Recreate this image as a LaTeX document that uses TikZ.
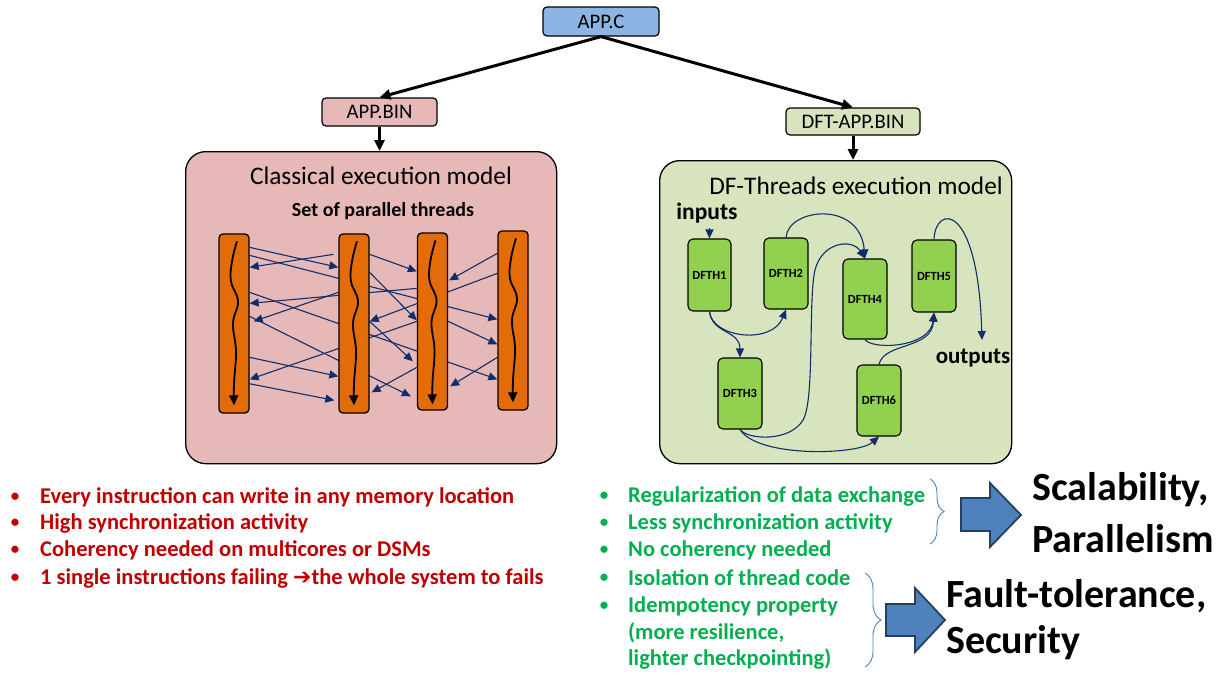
\documentclass[tikz,border=0pt]{standalone}
\usepackage{fontspec}
\setmainfont{Carlito}
\newfontfamily\symfont{DejaVu Sans}
\usetikzlibrary{arrows.meta,decorations.pathreplacing,calc}
\definecolor{pinkbox}{HTML}{E6B9B8}
\definecolor{greenbox}{HTML}{D7E4BD}
\definecolor{bluebox}{HTML}{8EB4E3}
\definecolor{dfgreen}{HTML}{92D050}
\definecolor{barorange}{HTML}{E36C09}
\definecolor{navy}{HTML}{112E6B}
\definecolor{redtxt}{HTML}{C00000}
\definecolor{greentxt}{HTML}{00B050}
\definecolor{blockblue}{HTML}{4F81BD}
\definecolor{blockedge}{HTML}{243F60}
\newcommand{\fs}[1]{\fontsize{#1}{#1}\selectfont}
\tikzset{
  smallbox/.style={draw=black, line width=1.2pt, rounded corners=4pt, inner sep=0pt, font=\fs{20.7}},
  bigbox/.style={draw=black, line width=1.3pt, rounded corners=20pt, inner sep=0pt, anchor=north west},
  bigarrow/.style={line width=3pt, -{Triangle[length=11pt,width=10pt]}},
  bar/.style={draw=black, fill=barorange, line width=1.3pt, rounded corners=4pt, inner sep=0pt, minimum width=30pt},
  flow/.style={draw=navy, line width=1.1pt, -{Triangle[length=9pt,width=8pt]}},
  wave/.style={line width=1.8pt, -{Triangle[length=10pt,width=9pt]}},
  dfth/.style={draw=black, fill=dfgreen, line width=1.1pt, rounded corners=5pt, inner sep=0pt, minimum width=44pt, minimum height=72pt, font=\bfseries\fs{12.5}},
  redline/.style={anchor=west, inner sep=0pt, text=redtxt, font=\bfseries\fs{22.5}},
  greenline/.style={anchor=west, inner sep=0pt, text=greentxt, font=\bfseries\fs{22.5}},
  redbullet/.style={anchor=center, inner sep=0pt, text=redtxt, font=\bfseries\fs{17}},
  greenbullet/.style={anchor=center, inner sep=0pt, text=greentxt, font=\bfseries\fs{17}},
  bigtxt/.style={anchor=west, inner sep=0pt, font=\bfseries\fs{40}},
  bracestyle/.style={draw=blockblue, line width=0.9pt, decorate},
  blockarrow/.style={draw=blockedge, fill=blockblue, line width=1.8pt, line join=miter},
}
\begin{document}
\begin{tikzpicture}[x=1pt,y=-1pt]
\useasboundingbox (0,0) rectangle (1225,675);
\fill[white] (0,0) rectangle (1225,675);

% top boxes
\node[smallbox, fill=bluebox, minimum width=116pt, minimum height=29pt] (appc) at (601,21.5) {APP.C};
\node[smallbox, fill=pinkbox, minimum width=115pt, minimum height=28pt] (appbin) at (379.5,112) {APP.BIN};
\node[smallbox, fill=greenbox, minimum width=134pt, minimum height=27pt] (dftbin) at (853,121.5) {DFT-APP.BIN};

% big boxes
\node[bigbox, fill=pinkbox, minimum width=371pt, minimum height=312pt] (lbox) at (185,151) {};
\node[bigbox, fill=greenbox, minimum width=352pt, minimum height=303pt] (rbox) at (659,160) {};

\draw[bigarrow] (appc.south) -- (appbin.north);
\draw[bigarrow] (appc.south) -- (dftbin.north);
\draw[bigarrow] (appbin.south) -- (appbin.south |- lbox.north);
\draw[bigarrow] (dftbin.south) -- (dftbin.south |- rbox.north);

\node[font=\fs{25.3}, inner sep=0pt] (ltitle) at (381,176) {Classical execution model};
\node[font=\bfseries\fs{20}, inner sep=0pt] (lsub) at (383,211) {Set of parallel threads};
\node[font=\fs{25.3}, inner sep=0pt] (rtitle) at (856,186) {DF-Threads execution model};

% bar anchors (drawn later)
\path (234,323.5) node[bar, minimum height=179pt, draw=none, fill=none] (b1) {};
\path (354,323.5) node[bar, minimum height=179pt, draw=none, fill=none] (b2) {};
\path (432.5,321.5) node[bar, minimum height=177pt, draw=none, fill=none] (b3) {};
\path (513,320.5) node[bar, minimum height=179pt, draw=none, fill=none] (b4) {};

% communication arrows (behind bars)
\draw[flow] ([yshift=-14pt]b1.north east) -- ([yshift=-34pt]b2.north west);
\draw[flow] ([xshift=-5pt,yshift=-21pt]b2.north west) -- ([yshift=-34pt]b1.north east);
\draw[flow] ([yshift=-22pt]b1.north east) -- ([yshift=-89pt]b4.north west);
\draw[flow] ([yshift=-21pt]b2.north east) -- ([yshift=-39pt]b3.north west);
\draw[flow] ([yshift=-39pt]b2.north east) -- ([yshift=-88pt]b3.north west);
\draw[flow] ([yshift=-23pt]b4.north west) -- ([xshift=1pt,yshift=-48pt]b3.north east);
\draw[flow] ([yshift=-43pt]b4.north west) -- ([yshift=-88pt]b2.north east);
\draw[flow] ([yshift=-56pt]b3.north west) -- ([yshift=-70pt]b1.north east);
\draw[flow] ([yshift=-59pt]b2.north west) -- ([xshift=4pt,yshift=-88pt]b1.north east);
\draw[flow] ([yshift=-59pt]b1.north east) -- ([yshift=-149pt]b4.north west);
\draw[flow] ([yshift=-89pt]b3.north east) -- ([yshift=-114pt]b4.north west);
\draw[flow] ([yshift=-89pt]b3.north west) -- ([yshift=-146pt]b1.north east);
\draw[flow] ([yshift=-88pt]b2.north east) -- ([xshift=-4pt,yshift=-129pt]b3.north west);
\draw[flow] ([yshift=-83pt]b1.north east) -- ([xshift=-6pt,yshift=-164pt]b3.north west);
\draw[flow] ([yshift=-124pt]b1.north east) -- ([yshift=-143pt]b2.north west);
\draw[flow] ([xshift=-2pt,yshift=-150pt]b1.north east) -- ([xshift=-4pt,yshift=-167pt]b2.north west);
\draw[flow] ([yshift=-135pt]b3.north west) -- ([xshift=2pt,yshift=-159pt]b2.north east);
\draw[flow] ([yshift=-127pt]b4.north west) -- ([xshift=2pt,yshift=-154pt]b3.north east);

% bars on top
\foreach \b/\h in {b1/179,b2/179,b3/177,b4/179}{
  \node[bar, minimum height=\h pt] at (\b) {};
  \begin{scope}[shift={(\b.north)}]
    \draw[wave] plot[smooth, tension=0.7] coordinates {(3,8) (-2,28) (-3,48) (4,68) (-1,90) (2,118) (0,150) (0,172)};
  \end{scope}
}

% DF threads
\node[dfth, minimum width=43pt] (d1) at (709.5,275) {DFTH1};
\node[dfth, minimum height=71pt] (d2) at (786,273.5) {DFTH2};
\node[dfth, minimum height=80pt] (d4) at (865,299) {DFTH4};
\node[dfth] (d5) at (934,276) {DFTH5};
\node[dfth, minimum height=71pt] (d3) at (740,393.5) {DFTH3};
\node[dfth, minimum height=71pt] (d6) at (879,400.5) {DFTH6};

\node[font=\bfseries\fs{23.5}, inner sep=0pt] (inputs) at (707,213) {inputs};
\node[font=\bfseries\fs{23}, inner sep=0pt] (outputs) at (973,358) {outputs};
\coordinate (outin) at (982,340);

\draw[flow] ([yshift=-5pt]inputs.south -| d1.north) -- (d1.north);
\draw[flow] (d1.south) .. controls (712,338) and (772,345) .. (d2.south);
\draw[flow] (d1.south) .. controls (712,334) and (740,330) .. (d3.north);
\draw[flow] (d2.north) .. controls (788,208) and (860,200) .. (d4.north);
\draw[flow] (d3.south) .. controls (748,440) and (790,442) .. (803,420)
   .. controls (815,400) and (808,300) .. (815,270)
   .. controls (822,242) and (852,238) .. (d4.north);
\draw[flow] (d3.south) .. controls (758,458) and (858,455) .. (d6.south);
\draw[flow] (d4.south) .. controls (872,350) and (930,348) .. (d5.south);
\draw[flow] (d6.north) .. controls (884,342) and (932,350) .. (d5.south);
\draw[flow] (d5.north) .. controls (935,205) and (978,200) .. (outin);

% bottom left text
\foreach \t/\y in {{Every instruction can write in any memory location}/497,
                   {High synchronization activity}/523,
                   {Coherency needed on multicores or DSMs}/550}{
  \node[redline] at (40,\y) {\t};
  \node[redbullet] at (15,\y) {•};
}
\node[redline] (lastred) at (40,578) {1 single instructions failing {\symfont\bfseries\fontsize{22}{22}\selectfont ➔}the whole system to fails};
\node[redbullet] at (15,578) {•};

% bottom right text
\node[greenline] (g1) at (628,496) {Regularization of data exchange};
\node[greenline] (g2) at (628,523) {Less synchronization activity};
\node[greenline] (g3) at (628,550) {No coherency needed};
\node[greenline] (g4) at (628,578) {Isolation of thread code};
\node[greenline] (g5) at (628,606) {Idempotency property};
\node[greenline] (g6) at (628,633) {(more resilience,};
\node[greenline] (g7) at (628,659) {lighter checkpointing)};
\foreach \y in {496,523,550,578,606}{\node[greenbullet] at (604,\y) {•};}

% braces
\draw[bracestyle, decoration={brace, amplitude=14pt}] (930,479) -- (930,544);
\draw[bracestyle, decoration={brace, amplitude=16pt}] (865,573) -- (865,667);

% block arrows
\draw[blockarrow] (961,498) -- (990,498) -- (990,483) -- (1021,515) -- (990,547) -- (990,531) -- (961,531) -- cycle;
\draw[blockarrow] (886,604) -- (915,604) -- (915,588) -- (945,620) -- (915,652) -- (915,636) -- (886,636) -- cycle;

\node[bigtxt] (s1) at (1032,490) {Scalability,};
\node[bigtxt] (s2) at (1032,539) {Parallelism};
\node[bigtxt] (f1) at (946,596) {Fault-tolerance,};
\node[bigtxt] (f2) at (946,643) {Security};
\end{tikzpicture}
\end{document}
